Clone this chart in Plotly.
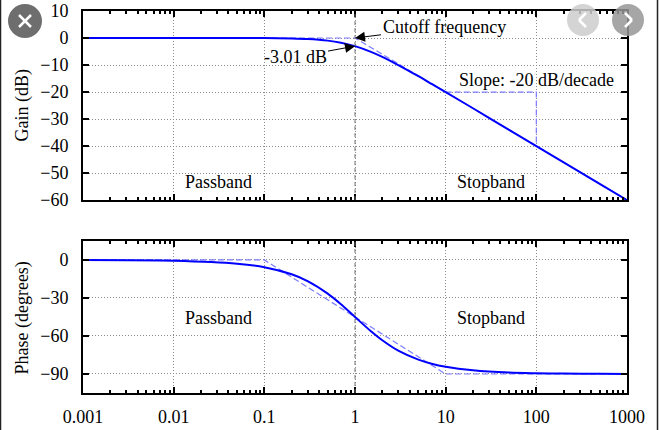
import plotly.graph_objects as go

# ---- data ----
freq = [0.001, 0.01, 0.05, 0.1, 0.2, 0.3, 0.5, 0.7, 1, 1.5, 2, 3, 5, 7, 10, 20, 50, 100, 200, 500, 1000]
gain_db = [0, 0, -0.01, -0.04, -0.17, -0.37, -0.97, -1.73, -3.01, -5.12, -6.99, -10.0, -14.15, -17.0,
           -20.04, -26.0, -34.0, -40.0, -46.0, -54.0, -60.0]
phase_deg = [0, -0.6, -2.9, -5.7, -11.3, -16.7, -26.6, -35.0, -45.0, -56.3, -63.4, -71.6, -78.7, -81.9,
             -84.3, -87.1, -88.9, -89.4, -89.7, -89.9, -90.0]

gain_asym_f = [0.001, 1, 1000]
gain_asym = [0, 0, -60]
slope_f = [10, 100, 100]
slope_db = [-20, -20, -40]
phase_asym_f = [0.001, 0.1, 10, 1000]
phase_asym = [0, 0, -90, -90]

x_tickvals = [0.001, 0.01, 0.1, 1, 10, 100, 1000]
x_ticktext = ["0.001", "0.01", "0.1", "1", "10", "100", "1000"]
x_minor = [m * d for d in (0.001, 0.01, 0.1, 1, 10, 100) for m in range(2, 10)]
gain_ticks = [10, 0, -10, -20, -30, -40, -50, -60]
phase_ticks = [0, -30, -60, -90]

FONT = "Liberation Serif"
BLUE = "#0000ff"
ASYM = "#7c7cff"
FS = 18

fig = go.Figure()
fig.add_trace(go.Scatter(x=gain_asym_f, y=gain_asym, mode="lines", xaxis="x", yaxis="y",
                         line=dict(color=ASYM, width=1.2, dash="6px,3px")))
fig.add_trace(go.Scatter(x=slope_f, y=slope_db, mode="lines", xaxis="x", yaxis="y",
                         line=dict(color=ASYM, width=1.2, dash="6px,3px")))
fig.add_trace(go.Scatter(x=freq, y=gain_db, mode="lines", xaxis="x", yaxis="y",
                         line=dict(color=BLUE, width=2, shape="spline", smoothing=0.8)))
fig.add_trace(go.Scatter(x=phase_asym_f, y=phase_asym, mode="lines", xaxis="x2", yaxis="y2",
                         line=dict(color=ASYM, width=1.2, dash="6px,3px")))
fig.add_trace(go.Scatter(x=freq, y=phase_deg, mode="lines", xaxis="x2", yaxis="y2",
                         line=dict(color=BLUE, width=2, shape="spline", smoothing=0.8)))

GRID = dict(showgrid=True, gridcolor="#8c8c8c", griddash="1px,2px", gridwidth=1)

xcommon = dict(type="log", range=[-3, 3], tickvals=x_tickvals, ticktext=x_ticktext,
               ticks="inside", ticklen=6, tickcolor="black", tickwidth=1.5, mirror="allticks",
               showline=True, linecolor="black", linewidth=2, automargin=False,
               minor=dict(ticks="inside", ticklen=3, tickvals=x_minor, tickcolor="black",
                          tickwidth=1.5, showgrid=False),
               zeroline=False, tickfont=dict(family=FONT, size=FS, color="black"), **GRID)
ycommon = dict(ticks="inside", ticklen=6, tickcolor="black", tickwidth=1.5, mirror="allticks",
               showline=True, linecolor="black", linewidth=2, automargin=False,
               zeroline=False, tickfont=dict(family=FONT, size=FS, color="black"),
               ticklabelstandoff=9, **GRID)

fig.update_layout(
    width=659, height=430,
    margin=dict(l=83, r=32, t=11, b=37, autoexpand=False),
    paper_bgcolor="white", plot_bgcolor="white",
    showlegend=False,
    xaxis=dict(xcommon, domain=[0, 1], anchor="y", showticklabels=False),
    yaxis=dict(ycommon, domain=[0.505, 1], anchor="x", range=[-60, 10], tickvals=gain_ticks),
    xaxis2=dict(xcommon, domain=[0, 1], anchor="y2", ticklabelstandoff=6),
    yaxis2=dict(ycommon, domain=[0, 0.398], anchor="x2", range=[-105, 15], tickvals=phase_ticks),
)

# cutoff vertical lines
for xr, yr in (("x", "y domain"), ("x2", "y2 domain")):
    fig.add_shape(type="line", xref=xr, yref=yr, x0=1, x1=1, y0=0, y1=1,
                  line=dict(color="#707070", width=1, dash="4px,3px"))

tf = dict(family=FONT, size=FS, color="black")
ann = [
    dict(x=0, y=0, xref="x", yref="y", text="Cutoff frequency", showarrow=True,
         ax=89, ay=-11, arrowhead=2, arrowsize=2, arrowwidth=1, arrowcolor="black", font=tf),
    dict(x=0, y=-3.01, xref="x", yref="y", text="-3.01 dB", showarrow=True,
         ax=-60, ay=11, arrowhead=2, arrowsize=2, arrowwidth=1, arrowcolor="black", font=tf),
    dict(x=2.0, y=-15.5, xref="x", yref="y", text="Slope: -20 dB/decade", showarrow=False, font=tf),
    dict(x=-1.51, y=-53.3, xref="x", yref="y", text="Passband", showarrow=False, font=tf),
    dict(x=1.5, y=-53.3, xref="x", yref="y", text="Stopband", showarrow=False, font=tf),
    dict(x=-1.51, y=-45.8, xref="x2", yref="y2", text="Passband", showarrow=False, font=tf),
    dict(x=1.5, y=-45.8, xref="x2", yref="y2", text="Stopband", showarrow=False, font=tf),
    dict(x=-0.112, y=0.7526, xref="paper", yref="paper", text="Gain (dB)", textangle=-90,
         xanchor="center", yanchor="middle", showarrow=False, font=tf),
    dict(x=-0.112, y=0.195, xref="paper", yref="paper", text="Phase (degrees)", textangle=-90,
         xanchor="center", yanchor="middle", showarrow=False, font=tf),
]
for a in ann:
    fig.add_annotation(**a)

# screenshot overlay buttons (drawn as shapes)
def px2paper(px, py):
    return (px - 83) / 544.0, (393 - py) / 382.0

def seg(xa, ya, xb, yb, width=2.5):
    x0, y0 = px2paper(xa, ya)
    x1, y1 = px2paper(xb, yb)
    fig.add_shape(type="line", xref="paper", yref="paper", x0=x0, y0=y0, x1=x1, y1=y1,
                  line=dict(color="white", width=width), layer="above")

for cx, cy, r, col in ((25, 21, 17, "#6e6e6e"), (583, 20, 16, "rgba(205,205,205,0.85)"),
                       (628, 20, 16, "rgba(150,150,150,0.85)")):
    x0, y0 = px2paper(cx - r, cy + r)
    x1, y1 = px2paper(cx + r, cy - r)
    fig.add_shape(type="circle", xref="paper", yref="paper", x0=x0, x1=x1, y0=y0, y1=y1,
                  fillcolor=col, line=dict(width=0), layer="above")

seg(19, 15, 31, 27)
seg(19, 27, 31, 15)
seg(586, 13, 579, 20)
seg(579, 20, 586, 27)
seg(625, 13, 632, 20)
seg(632, 20, 625, 27)

# left/right dark edges of the screenshot
for px in (0.5, 657.5):
    xp, _ = px2paper(px, 0)
    fig.add_shape(type="line", xref="paper", yref="paper", x0=xp, x1=xp,
                  y0=px2paper(0, 430)[1], y1=px2paper(0, 0)[1],
                  line=dict(color="#222222", width=1.5), layer="above")

fig.write_html("out.html", config={"displayModeBar": False},
               post_script="document.body.style.margin='0';")
